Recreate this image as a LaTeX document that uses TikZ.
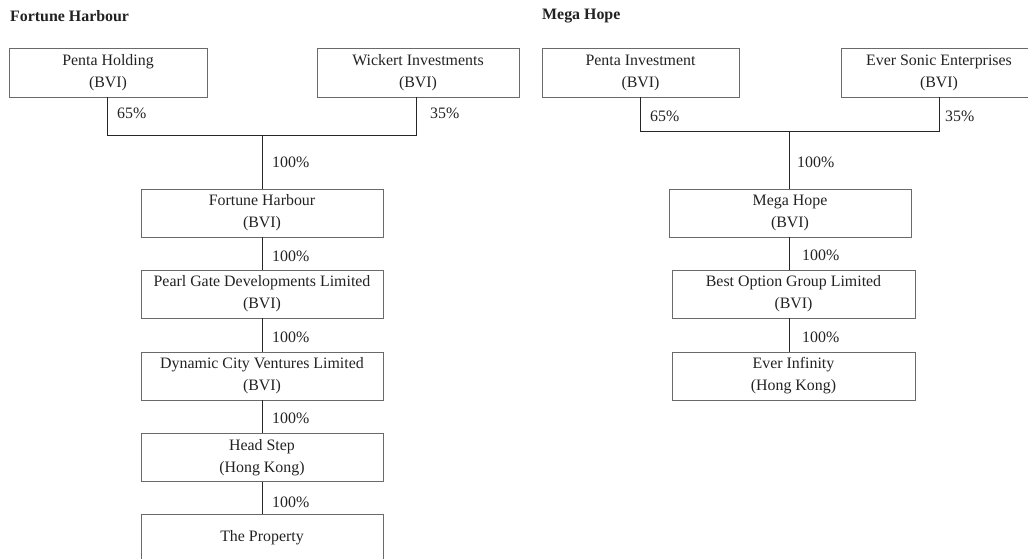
\documentclass[tikz,border=0pt]{standalone}
\usepackage{fontspec}
\setmainfont{Liberation Serif}
\newcommand\myfs{\fontsize{15.9}{22}\selectfont}
\definecolor{boxgray}{HTML}{6A6A6A}
\definecolor{txt}{HTML}{222222}
\begin{document}
\begin{tikzpicture}[x=1pt,y=-1pt,
  box/.style={draw=boxgray, line width=0.9pt, minimum height=49pt, align=center, inner sep=0pt, font=\myfs, text=txt},
  pct/.style={anchor=west, inner sep=0pt, font=\myfs, text=txt},
  ttl/.style={anchor=west, inner sep=0pt, font=\myfs\bfseries, text=txt},
  link/.style={draw=black!85, line width=0.9pt}]
\useasboundingbox (0,0) rectangle (1028,559);
\clip (0,0) rectangle (1028,559);
% titles
\node[ttl] (t1) at (10,16) {Fortune Harbour};
\node[ttl] (t2) at (542,16) {Mega Hope};
% left tree
\node[box, minimum width=198pt] (PH) at (108,72.5) {Penta Holding\\(BVI)};
\node[box, minimum width=202pt] (WI) at (418,72.5) {Wickert Investments\\(BVI)};
\node[box, minimum width=242pt, minimum height=48pt] (FH) at (262,213) {Fortune Harbour\\(BVI)};
\node[box, minimum width=242pt, minimum height=48pt] (PG) at (262,294) {Pearl Gate Developments Limited\\(BVI)};
\node[box, minimum width=242pt, minimum height=48pt] (DC) at (262,376) {Dynamic City Ventures Limited\\(BVI)};
\node[box, minimum width=242pt, minimum height=48pt] (HS) at (262,457.5) {Head Step\\(Hong Kong)};
\node[box, minimum width=242pt, minimum height=48pt] (TP) at (262,538) {The Property};
\coordinate (jL) at (262,135);
\draw[link] ([xshift=-1pt]PH.south) |- (jL);
\draw[link] ([xshift=-2pt]WI.south) |- (jL);
\draw[link] (jL) -- (FH.north);
\draw[link] (FH) -- (PG);
\draw[link] (PG) -- (DC);
\draw[link] (DC) -- (HS);
\draw[link] (HS) -- (TP);
\node[pct] (l1) at (117,113) {65\%};
\node[pct] (l2) at (430,113) {35\%};
\node[pct] (l3) at (272,162) {100\%};
\node[pct] (l4) at (272,256) {100\%};
\node[pct] (l5) at (272,337) {100\%};
\node[pct] (l6) at (272,418) {100\%};
\node[pct] (l7) at (272,502) {100\%};
% right tree
\node[box, minimum width=197pt] (PI) at (640.5,72.5) {Penta Investment\\(BVI)};
\node[box, minimum width=196pt] (ES) at (939,72.5) {Ever Sonic Enterprises\\(BVI)};
\node[box, minimum width=242pt, minimum height=48pt] (MH) at (790,213) {Mega Hope\\(BVI)};
\node[box, minimum width=243pt, minimum height=48pt] (BO) at (793.5,294) {Best Option Group Limited\\(BVI)};
\node[box, minimum width=243pt, minimum height=48pt] (EI) at (793.5,376) {Ever Infinity\\(Hong Kong)};
\coordinate (jR) at (789,131);
\draw[link] (PI.south) |- (jR);
\draw[link] (ES.south) |- (jR);
\draw[link] (jR) -- (jR |- MH.north);
\draw[link] (jR |- MH.south) -- (jR |- BO.north);
\draw[link] (jR |- BO.south) -- (jR |- EI.north);
\node[pct] (r1) at (650,116) {65\%};
\node[pct] (r2) at (945,116) {35\%};
\node[pct] (r3) at (797,162) {100\%};
\node[pct] (r4) at (802,255) {100\%};
\node[pct] (r5) at (802,337) {100\%};
\end{tikzpicture}
\end{document}
